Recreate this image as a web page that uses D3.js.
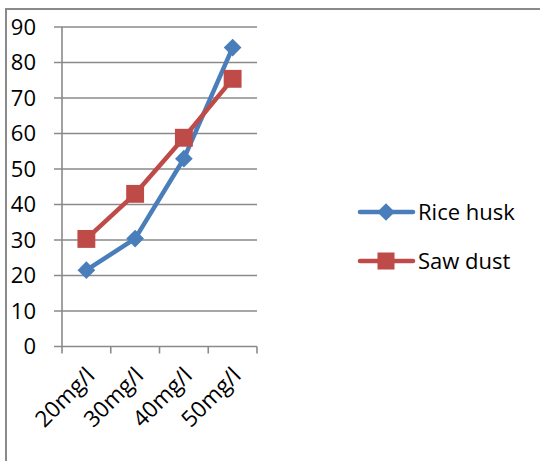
<!DOCTYPE html>
<html><head><meta charset="utf-8">
<script src="https://cdn.jsdelivr.net/npm/d3@7"></script>
<style>html,body{margin:0;padding:0;background:#fff;}svg{display:block;font-family:"Open Sans",sans-serif;}</style>
</head><body>
<script>
const categories = ["20mg/l","30mg/l","40mg/l","50mg/l"];
const riceHusk = [21.5, 30.4, 52.9, 84.2];
const sawDust = [30.3, 43.0, 58.8, 75.4];
const yTicks = [0,10,20,30,40,50,60,70,80,90];
const seriesNames = ["Rice husk","Saw dust"];
const colors = ["#4A7EBB","#BE4B48"];

const W=540,H=461;
const svg=d3.select("body").append("svg").attr("width",W).attr("height",H);
svg.append("rect").attr("x",6).attr("y",9).attr("width",W+10).attr("height",H+10)
  .attr("fill","none").attr("stroke","#8a8a8a").attr("stroke-width",2);

const x=d3.scaleBand().domain(categories).range([62,257]);
const y=d3.scaleLinear().domain([0,90]).range([346.5,27]);

const g=svg.append("g");
g.selectAll("line.grid").data(yTicks).join("line")
  .attr("x1",54).attr("x2",257).attr("y1",d=>y(d)).attr("y2",d=>y(d))
  .attr("stroke","#8a8a8a").attr("stroke-width",1.6);
g.append("line").attr("x1",62).attr("x2",62).attr("y1",y(90)).attr("y2",y(0))
  .attr("stroke","#8a8a8a").attr("stroke-width",1.6);
const xt=[62,...categories.map(c=>x(c)+x.bandwidth())];
g.selectAll("line.xt").data(xt).join("line")
  .attr("x1",d=>d).attr("x2",d=>d).attr("y1",y(0)).attr("y2",y(0)+7)
  .attr("stroke","#8a8a8a").attr("stroke-width",1.6);
g.selectAll("text.yl").data(yTicks).join("text")
  .attr("x",36).attr("y",d=>y(d)).attr("dy","0.36em").attr("text-anchor","end")
  .attr("font-size",22).attr("fill","#000").text(d=>d);
g.selectAll("text.xl").data(categories).join("text")
  .attr("transform",d=>`translate(${x(d)+x.bandwidth()/2+4},${y(0)+25}) rotate(-45)`)
  .attr("text-anchor","end").attr("dy","0.35em")
  .attr("font-size",22.5).attr("fill","#000").text(d=>d);

const line=d3.line().x((d,i)=>x(categories[i])+x.bandwidth()/2).y(d=>y(d));
const data=[riceHusk,sawDust];
const diamond=d3.symbol().type(d3.symbolDiamond2).size(200);
const square=d3.symbol().type(d3.symbolSquare).size(320);
data.forEach((s,k)=>{
  g.append("path").attr("d",line(s)).attr("fill","none").attr("stroke",colors[k])
   .attr("stroke-width",4.5).attr("stroke-linejoin","round");
});
data.forEach((s,k)=>{
  g.selectAll(null).data(s).join("path")
   .attr("transform",(d,i)=>`translate(${x(categories[i])+x.bandwidth()/2},${y(d)})`)
   .attr("d",k===0?diamond:square).attr("fill",colors[k]);
});
const ly=[212,261];
seriesNames.forEach((n,k)=>{
  const lg=svg.append("g");
  lg.append("line").attr("x1",360).attr("x2",413).attr("y1",ly[k]).attr("y2",ly[k])
    .attr("stroke",colors[k]).attr("stroke-width",4.5).attr("stroke-linecap","round");
  lg.append("path").attr("transform",`translate(386,${ly[k]})`)
    .attr("d",k===0?diamond:d3.symbol().type(d3.symbolSquare).size(290)).attr("fill",colors[k]);
  lg.append("text").attr("x",418).attr("y",ly[k]).attr("dy","0.36em")
    .attr("font-size",22).attr("fill","#000").text(n);
});
</script>
</body></html>
